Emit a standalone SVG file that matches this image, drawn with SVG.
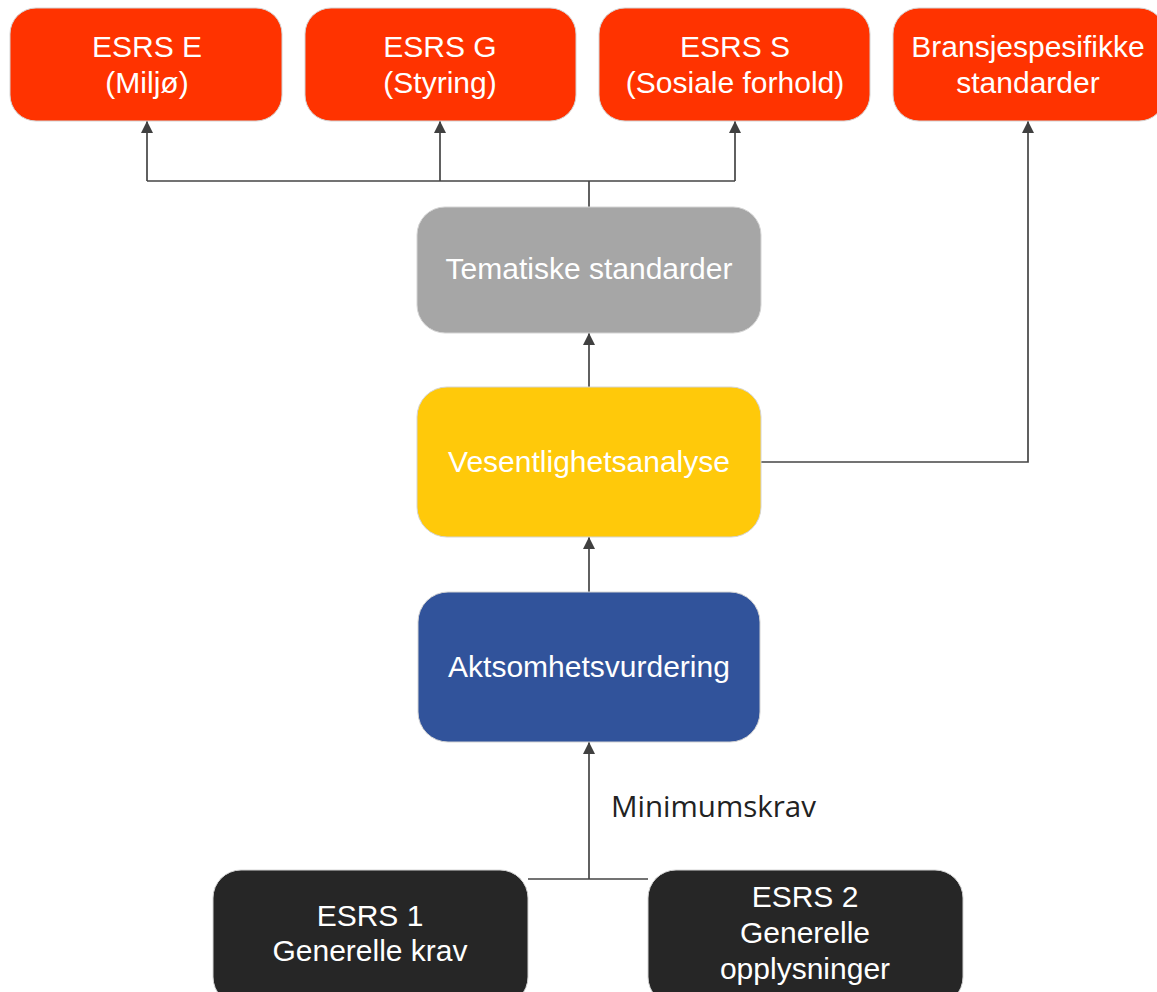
<svg xmlns="http://www.w3.org/2000/svg" width="1157" height="992" viewBox="0 0 1157 992">
  <defs>
    <marker id="arrow" viewBox="0 0 12 12" refX="12" refY="6" markerWidth="12" markerHeight="12" markerUnits="userSpaceOnUse" orient="auto">
      <path d="M0,0 L12,6 L0,12 Z" fill="#404040"/>
    </marker>
    <style>
      .node { stroke: #d4d4d4; stroke-width: 1; }
      .red { fill: #ff3300; }
      .gray { fill: #a6a6a6; }
      .yellow { fill: #ffc90a; }
      .blue { fill: #31539b; }
      .dark { fill: #262626; }
      .label { font-family: "Liberation Sans", Arial, sans-serif; font-size: 30px; fill: #ffffff; text-anchor: middle; }
      .edge { fill: none; stroke: #454545; stroke-width: 1.7; }
      .edge-label { font-family: "Open Sans", "Noto Sans", sans-serif; font-size: 29.5px; fill: #222222; }
    </style>
  </defs>
  <rect width="1157" height="992" fill="#ffffff"/>

  <!-- connectors -->
  <g id="connectors">
    <path class="edge" d="M589,207 V181"/>
    <path class="edge" d="M147,181 H735"/>
    <path class="edge" d="M147,181 V121" marker-end="url(#arrow)"/>
    <path class="edge" d="M440,181 V121" marker-end="url(#arrow)"/>
    <path class="edge" d="M735,181 V121" marker-end="url(#arrow)"/>
    <path class="edge" d="M589,387 V333" marker-end="url(#arrow)"/>
    <path class="edge" d="M761,462 H1028 V121" marker-end="url(#arrow)"/>
    <path class="edge" d="M589,592 V537" marker-end="url(#arrow)"/>
    <path class="edge" d="M528,879 H648"/>
    <path class="edge" d="M589,879 V742" marker-end="url(#arrow)"/>
    <text class="edge-label" x="611" y="817">Minimumskrav</text>
  </g>

  <!-- top row: topical standards -->
  <g id="esrs-e">
    <rect class="node red" x="10" y="8" width="272" height="113" rx="26"/>
    <text class="label" x="147" y="57">ESRS E</text>
    <text class="label" x="147" y="93">(Miljø)</text>
  </g>
  <g id="esrs-g">
    <rect class="node red" x="305" y="8" width="271" height="113" rx="26"/>
    <text class="label" x="440" y="57">ESRS G</text>
    <text class="label" x="440" y="93">(Styring)</text>
  </g>
  <g id="esrs-s">
    <rect class="node red" x="599" y="8" width="271" height="113" rx="26"/>
    <text class="label" x="735" y="57">ESRS S</text>
    <text class="label" x="735" y="93">(Sosiale forhold)</text>
  </g>
  <g id="bransje">
    <rect class="node red" x="893" y="8" width="272" height="113" rx="26"/>
    <text class="label" x="1028" y="57">Bransjespesifikke</text>
    <text class="label" x="1028" y="93">standarder</text>
  </g>

  <!-- central column -->
  <g id="tematiske">
    <rect class="node gray" x="417" y="207" width="344" height="126" rx="28"/>
    <text class="label" x="589" y="279">Tematiske standarder</text>
  </g>
  <g id="vesentlighet">
    <rect class="node yellow" x="417" y="387" width="344" height="150" rx="30"/>
    <text class="label" x="589" y="472">Vesentlighetsanalyse</text>
  </g>
  <g id="aktsomhet">
    <rect class="node blue" x="418" y="592" width="342" height="150" rx="30"/>
    <text class="label" x="589" y="677">Aktsomhetsvurdering</text>
  </g>

  <!-- bottom row: cross-cutting standards -->
  <g id="esrs-1">
    <rect class="node dark" x="213" y="870" width="315" height="135" rx="28"/>
    <text class="label" x="370" y="926">ESRS 1</text>
    <text class="label" x="370" y="961">Generelle krav</text>
  </g>
  <g id="esrs-2">
    <rect class="node dark" x="648" y="870" width="315" height="135" rx="28"/>
    <text class="label" x="805" y="907">ESRS 2</text>
    <text class="label" x="805" y="943">Generelle</text>
    <text class="label" x="805" y="979">opplysninger</text>
  </g>
</svg>
